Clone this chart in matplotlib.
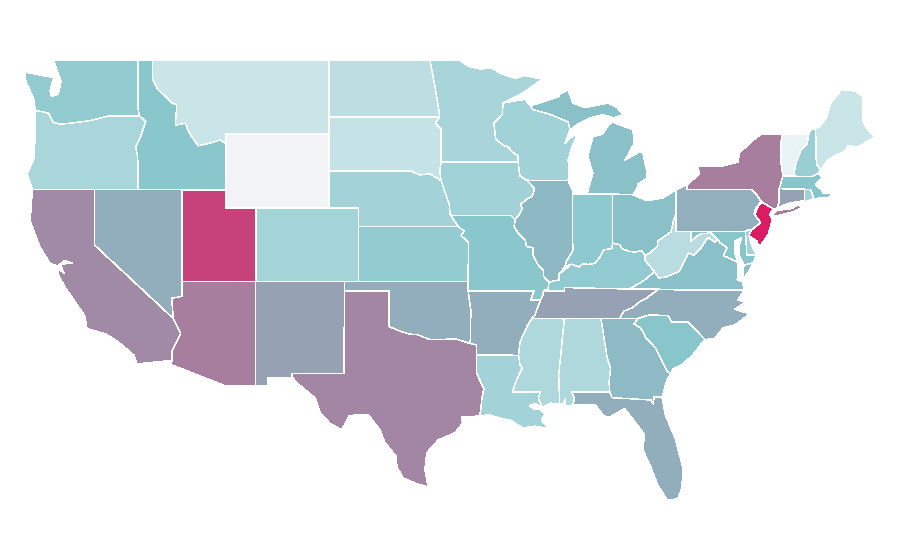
import numpy as np
import matplotlib
matplotlib.use("Agg")
import matplotlib.pyplot as plt
from matplotlib.collections import PolyCollection
from matplotlib.colors import LinearSegmentedColormap, Normalize

# value per state (NaN = no data)
state_values = {
    "WA": 45, "OR": 34, "CA": 71.6, "NV": 62, "ID": 49, "MT": 19, "WY": np.nan, "UT": 89, "AZ": 75, "CO": 36,
    "NM": 65.4, "ND": 25, "SD": 21, "NE": 37, "KS": 45, "OK": 62, "TX": 73, "MN": 35, "IA": 38, "MO": 49,
    "AR": 62, "LA": 37, "WI": 38, "IL": 56, "MI": 52.4, "IN": 47, "OH": 52.4, "KY": 46, "TN": 65.4, "MS": 32,
    "AL": 32, "GA": 55.6, "FL": 62, "SC": 50, "NC": 62, "VA": 52.4, "WV": 27, "MD": 50, "DE": 38, "PA": 61,
    "NJ": 97, "NY": 75, "CT": 65.4, "RI": 38, "MA": 50, "VT": 4, "NH": 42, "ME": 18,
}

color_stops = [(0.0, "#f0f7f8"), (0.5, "#88c6cc"), (0.62, "#92adbc"), (0.75, "#a67f9f"), (1.0, "#e0105e")]
no_data_color = "#f2f3f5"

# shared geographic borders, lon/lat
miss_mn_wi = [(-92.75,44.75),(-92.3,44.45),(-91.9,44.3),(-91.6,44.03),(-91.25,43.85),(-91.22,43.5)]
miss_ia_wi = [(-91.17,43.1),(-91.1,42.75),(-90.64,42.51)]
miss_ia_il = [(-90.42,42.33),(-90.15,42.1),(-90.17,41.8),(-90.34,41.6),(-90.65,41.47),(-91.05,41.2),(-90.95,40.95),(-91.1,40.7),(-91.42,40.38)]
miss_mo_il = [(-91.5,40.0),(-91.2,39.6),(-90.75,39.25),(-90.65,38.9),(-90.2,38.85),(-90.2,38.4),(-89.9,37.95),(-89.5,37.6),(-89.5,37.3),(-89.13,36.98)]
miss_ms_ar = [(-90.3,35.0),(-90.6,34.6),(-90.9,34.1),(-91.1,33.7),(-91.2,33.0)]
miss_ms_la = [(-91.1,32.5),(-90.95,32.3),(-91.2,31.9),(-91.45,31.4),(-91.6,31.0)]
ohio_wv_oh = [(-80.52,40.64),(-80.65,40.4),(-80.85,39.7),(-81.4,39.4),(-81.75,39.2),(-81.75,38.95),(-82.2,38.6),(-82.6,38.42)]
ohio_ky_oh = [(-82.85,38.7),(-83.3,38.6),(-83.7,38.65),(-84.2,38.8),(-84.3,39.0),(-84.82,39.1)]
ohio_ky_in = [(-84.85,38.8),(-85.4,38.73),(-85.7,38.3),(-86.0,38.0),(-86.5,37.93),(-86.8,37.98),(-87.1,37.8),(-87.6,37.95),(-88.05,37.8)]
ohio_ky_il = [(-88.45,37.4),(-88.45,37.1),(-89.13,36.98)]
wabash = [(-87.95,38.1),(-87.5,38.7),(-87.53,39.35)]
mo_sd_ne = [(-104.05,43.0),(-98.5,43.0),(-97.9,42.8),(-97.2,42.85),(-96.45,42.49)]
mo_ia_ne = [(-96.25,42.0),(-96.1,41.65),(-95.9,41.2),(-95.85,40.7),(-95.77,40.58)]
mo_mo_ks = [(-95.3,40.0),(-94.9,39.75),(-95.1,39.5),(-94.6,39.15)]
red_river = [(-100.0,34.56),(-99.2,34.3),(-98.6,34.15),(-98.1,34.13),(-97.2,33.85),(-96.6,33.85),(-95.5,33.9),(-94.48,33.64)]
sabine = [(-94.04,33.02),(-94.04,32.0),(-93.55,31.2),(-93.7,30.6),(-93.75,30.1),(-93.85,29.7)]
savannah = [(-83.1,35.0),(-83.35,34.7),(-82.9,34.48),(-82.55,33.95),(-81.9,33.4),(-81.4,32.6),(-81.1,32.1),(-80.85,32.03)]
nc_tn = [(-84.32,35.0),(-84.05,35.4),(-83.5,35.57),(-82.9,35.95),(-82.6,36.05),(-81.7,36.59)]
va_wv = [(-81.97,37.54),(-81.68,37.2),(-81.2,37.25),(-80.3,37.55),(-79.65,38.58),(-79.3,38.42),(-78.87,38.77),(-78.35,39.4),(-77.83,39.14),(-77.72,39.32)]
potomac = [(-76.3,38.05),(-76.95,38.3),(-77.3,38.4),(-77.05,38.85),(-77.5,39.1),(-77.72,39.32)]
md_wv = [(-77.72,39.32),(-78.2,39.68),(-78.4,39.62),(-78.8,39.6),(-79.1,39.47),(-79.48,39.2),(-79.48,39.72)]
id_mt = [(-111.05,44.48),(-111.46,44.7),(-112.0,44.55),(-112.95,44.38),(-113.45,44.95),(-113.84,45.6),(-114.5,45.5),(-114.4,46.6),(-114.7,46.7),(-115.7,47.45),(-116.05,48.0),(-116.05,49.0)]
or_id = [(-116.92,45.99),(-116.5,45.7),(-116.85,44.9),(-117.2,44.34),(-117.05,43.8),(-117.03,42.0)]
wa_or = [(-124.0,46.27),(-123.6,46.25),(-123.1,46.15),(-122.8,45.65),(-122.3,45.55),(-121.2,45.65),(-120.3,45.75),(-119.06,46.0),(-116.92,45.99)]
vt_nh = [(-72.45,42.73),(-72.45,43.1),(-72.3,43.6),(-72.05,44.1),(-71.6,44.5),(-71.5,45.0)]
r = lambda line: line[::-1]

state_shapes = {
    "WA": [[(-124.7,48.38),(-123.2,48.15),(-122.75,48.1),(-123.0,47.35),(-122.9,47.05),(-122.45,47.2),(-122.25,47.9),(-122.45,48.3),(-122.75,49.0),(-117.03,49.0),(-117.04,46.42)] + r(wa_or) + [(-124.1,46.9),(-124.7,48.0)]],
    "OR": [wa_or + or_id[1:] + [(-124.2,42.0),(-124.55,42.85),(-124.1,43.7),(-124.0,45.0)]],
    "CA": [[(-124.2,42.0),(-120.0,42.0),(-120.0,39.0),(-114.63,35.0),(-114.13,34.2),(-114.74,33.2),(-114.72,32.72),(-117.12,32.53),(-117.3,33.0),(-118.4,33.75),(-119.2,34.15),(-120.5,34.45),(-120.65,35.15),(-121.9,36.6),(-122.4,37.3),(-122.5,37.75),(-122.05,37.45),(-122.3,37.95),(-121.5,38.0),(-122.0,38.15),(-122.5,37.85),(-123.0,38.0),(-123.7,38.9),(-124.35,40.3)]],
    "NV": [[(-120.0,42.0),(-114.04,42.0),(-114.04,36.2),(-114.75,36.1),(-114.63,35.0),(-120.0,39.0)]],
    "ID": [[(-117.03,49.0)] + r(id_mt) + [(-111.05,42.0)] + r(or_id) + [(-117.04,46.42)]],
    "MT": [[(-116.05,49.0),(-104.05,49.0),(-104.05,45.0),(-111.05,45.0)] + id_mt[:-1]],
    "UT": [[(-114.04,42.0),(-111.05,42.0),(-111.05,41.0),(-109.05,41.0),(-109.05,37.0),(-114.04,37.0)]],
    "CO": [[(-109.05,41.0),(-102.05,41.0),(-102.05,37.0),(-109.05,37.0)]],
    "AZ": [[(-114.75,36.1),(-114.04,36.2),(-114.04,37.0),(-109.05,37.0),(-109.05,31.33),(-111.07,31.33),(-114.8,32.5),(-114.72,32.72),(-114.74,33.2),(-114.13,34.2),(-114.63,35.0)]],
    "NM": [[(-109.05,37.0),(-103.0,37.0),(-103.06,32.0),(-106.62,32.0),(-106.53,31.78),(-108.2,31.78),(-108.2,31.33),(-109.05,31.33)]],
    "ND": [[(-104.05,49.0),(-97.2,49.0),(-96.85,47.5),(-96.6,46.3),(-96.55,45.94),(-104.05,45.94)]],
    "SD": [[(-104.05,45.94),(-96.55,45.94),(-96.85,45.6),(-96.45,45.3),(-96.45,43.5),(-96.55,43.0)] + r(mo_sd_ne)],
    "NE": [mo_sd_ne + mo_ia_ne + [(-95.3,40.0),(-102.05,40.0),(-102.05,41.0),(-104.05,41.0)]],
    "KS": [[(-102.05,40.0)] + mo_mo_ks + [(-94.62,37.0),(-102.05,37.0)]],
    "OK": [[(-103.0,37.0),(-94.62,37.0),(-94.43,35.4)] + r(red_river) + [(-100.0,36.5),(-103.0,36.5)]],
    "TX": [[(-103.0,36.5),(-100.0,36.5)] + red_river + [(-94.04,33.55)] + sabine + [(-95.05,29.65),(-95.0,29.3),(-95.5,28.8),(-96.65,28.4),(-97.43,27.7),(-97.55,26.8),(-97.34,25.85),(-98.2,26.05),(-99.04,26.34),(-99.45,26.93),(-99.5,27.5),(-100.3,28.3),(-100.6,28.95),(-101.4,29.77),(-102.3,29.76),(-102.7,29.7),(-103.2,28.95),(-104.0,29.3),(-104.67,29.87),(-105.0,30.68),(-106.2,31.47),(-106.53,31.78),(-106.62,32.0),(-103.06,32.0)]],
    "MN": [[(-97.2,49.0),(-95.15,49.0),(-94.6,48.7),(-93.8,48.55),(-93.0,48.6),(-92.4,48.3),(-91.4,48.05),(-90.8,48.2),(-89.6,48.0),(-90.8,47.3),(-92.25,46.7),(-92.3,46.1),(-92.87,45.6)] + miss_mn_wi + [(-96.45,43.5),(-96.45,45.3),(-96.85,45.6),(-96.55,45.94),(-96.6,46.3),(-96.85,47.5)]],
    "IA": [[(-96.45,43.5),(-91.22,43.5)] + miss_ia_wi + miss_ia_il + [(-91.73,40.6)] + r(mo_ia_ne) + [(-96.45,42.49),(-96.55,43.0)]],
    "MO": [[(-95.77,40.58),(-91.73,40.6),(-91.42,40.38)] + miss_mo_il + [(-89.2,36.6),(-89.5,36.5),(-89.55,36.25),(-89.7,36.0),(-90.37,36.0),(-90.15,36.5),(-94.62,36.5),(-94.62,37.0)] + r(mo_mo_ks)],
    "AR": [[(-94.62,36.5),(-90.15,36.5),(-90.37,36.0),(-89.7,36.0),(-89.9,35.6),(-90.1,35.15)] + miss_ms_ar + [(-94.04,33.02),(-94.04,33.55),(-94.48,33.64),(-94.43,35.4)]],
    "LA": [[(-94.04,33.02),(-91.2,33.0)] + miss_ms_la + [(-89.73,31.0),(-89.85,30.67),(-89.6,30.18),(-90.1,30.38),(-90.45,30.25),(-90.1,30.05),(-89.7,30.05),(-89.4,29.8),(-89.65,29.5),(-89.15,29.0),(-90.1,29.15),(-90.9,29.05),(-91.8,29.5),(-92.3,29.55),(-93.2,29.77)] + r(sabine)],
    "MS": [r(miss_ms_la)[1:] + [(-91.2,33.0)] + r(miss_ms_ar)[1:] + [(-90.3,35.0),(-88.2,35.0),(-88.1,34.9),(-88.47,31.9),(-88.4,30.35),(-89.0,30.4),(-89.6,30.18),(-89.85,30.67),(-89.73,31.0),(-91.6,31.0)]],
    "AL": [[(-88.2,35.0),(-85.6,35.0),(-85.18,32.87),(-84.95,32.3),(-85.05,31.55),(-85.0,31.0),(-87.6,31.0),(-87.4,30.65),(-87.5,30.3),(-88.0,30.25),(-88.0,30.65),(-88.15,30.35),(-88.4,30.35),(-88.47,31.9),(-88.1,34.9)]],
    "GA": [[(-85.6,35.0)] + savannah + [(-81.15,31.6),(-81.45,30.72),(-82.0,30.75),(-82.05,30.36),(-82.2,30.57),(-84.86,30.7),(-85.0,31.0),(-85.05,31.55),(-84.95,32.3),(-85.18,32.87)]],
    "FL": [[(-87.6,31.0),(-85.0,31.0),(-84.86,30.7),(-82.2,30.57),(-82.05,30.36),(-82.0,30.75),(-81.45,30.72),(-81.25,29.8),(-80.55,28.45),(-80.05,26.9),(-80.1,25.8),(-80.4,25.2),(-81.1,25.13),(-81.75,25.95),(-82.2,26.9),(-82.75,27.85),(-82.65,28.7),(-83.4,29.5),(-84.0,30.1),(-85.0,29.65),(-85.4,29.7),(-86.0,30.3),(-87.5,30.3),(-87.4,30.65)]],
    "SC": [[(-83.1,35.0),(-82.3,35.2),(-81.05,35.15),(-80.8,34.82),(-79.67,34.8),(-78.55,33.86),(-79.0,33.4),(-79.4,33.0),(-80.0,32.55),(-80.7,32.25)] + r(savannah)[:-1]],
    "NC": [nc_tn + [(-80.3,36.55),(-75.87,36.55),(-76.3,36.0),(-75.75,35.9),(-76.5,35.5),(-75.5,35.25),(-76.5,34.65),(-77.3,34.5),(-77.9,33.9),(-78.55,33.86),(-79.67,34.8),(-80.8,34.82),(-81.05,35.15),(-82.3,35.2),(-83.1,35.0)]],
    "TN": [[(-90.3,35.0),(-88.2,35.0),(-85.6,35.0)] + nc_tn + [(-83.68,36.6),(-86.5,36.65),(-88.07,36.68),(-88.07,36.5),(-89.5,36.5),(-89.55,36.25),(-89.7,36.0),(-89.9,35.6),(-90.1,35.15)]],
    "KY": [r(ohio_ky_il) + r(ohio_ky_in)[1:] + [(-84.82,39.1)] + r(ohio_ky_oh)[1:] + [(-82.6,38.42),(-82.6,38.15),(-81.97,37.54),(-82.7,37.05),(-83.68,36.6),(-86.5,36.65),(-88.07,36.68),(-88.07,36.5),(-89.42,36.5),(-89.2,36.6)]],
    "VA": [[(-83.68,36.6),(-81.7,36.59),(-80.3,36.55),(-75.87,36.55),(-76.0,37.0),(-76.35,37.1),(-76.3,37.6)] + potomac[:-1] + r(va_wv) + [(-82.7,37.05)], [(-75.95,37.15),(-75.9,37.9),(-75.65,37.95),(-75.25,38.03),(-75.6,37.5)]],
    "WV": [ohio_wv_oh + [(-82.6,38.15)] + va_wv[:-1] + md_wv + [(-80.52,39.72)]],
    "MD": [[(-79.48,39.72),(-75.79,39.72),(-75.7,38.46),(-75.05,38.45),(-75.25,38.03),(-75.65,37.95),(-75.9,37.9),(-76.2,38.4),(-76.2,39.0),(-76.05,39.4),(-76.5,39.2),(-76.5,38.5)] + potomac + md_wv[1:-1]],
    "DE": [[(-75.79,39.72),(-75.6,39.83),(-75.4,39.8),(-75.55,39.5),(-75.4,39.05),(-75.05,38.45),(-75.7,38.46)]],
    "PA": [[(-80.52,41.98),(-79.76,42.27),(-79.76,42.0),(-75.35,42.0),(-75.05,41.75),(-74.7,41.36),(-75.1,41.0),(-75.2,40.7),(-74.75,40.2),(-75.4,39.8),(-75.6,39.83),(-75.79,39.72),(-80.52,39.72)]],
    "NJ": [[(-74.7,41.33),(-73.9,40.95),(-74.15,40.65),(-74.0,40.45),(-74.05,40.1),(-74.25,39.55),(-74.75,39.0),(-74.9,38.95),(-75.0,39.2),(-75.55,39.5),(-75.4,39.8),(-74.75,40.2),(-75.15,40.63),(-74.95,41.07)]],
    "NY": [[(-79.76,42.0),(-79.76,42.27),(-78.9,42.85),(-79.05,43.27),(-77.5,43.25),(-76.3,43.5),(-76.2,44.0),(-75.0,44.87),(-74.7,45.0),(-73.35,45.0),(-73.4,43.6),(-73.25,42.75),(-73.5,42.05),(-73.5,41.3),(-73.65,41.0),(-73.9,40.95),(-74.7,41.33),(-75.05,41.75),(-75.35,42.0)], [(-74.0,40.6),(-73.7,40.87),(-72.6,40.97),(-72.3,41.15),(-71.87,41.07),(-72.5,40.8),(-73.5,40.6)]],
    "CT": [[(-73.5,42.05),(-71.8,42.02),(-71.8,41.4),(-72.9,41.25),(-73.65,41.0),(-73.5,41.3)]],
    "RI": [[(-71.8,42.02),(-71.38,42.02),(-71.15,41.5),(-71.85,41.32),(-71.8,41.4)]],
    "MA": [[(-73.5,42.05),(-73.25,42.75),(-72.45,42.73),(-71.3,42.7),(-70.85,42.87),(-70.6,42.65),(-71.05,42.3),(-70.6,41.95),(-70.55,41.8),(-70.0,41.78),(-70.0,41.6),(-70.6,41.55),(-71.15,41.5),(-71.38,42.02),(-71.8,42.02)]],
    "VT": [[(-73.25,42.75)] + vt_nh + [(-73.35,45.0),(-73.4,43.6)]],
    "NH": [[(-72.45,42.73),(-71.3,42.7),(-70.85,42.87),(-70.7,43.07),(-70.98,43.4),(-71.03,45.3),(-71.4,45.24)] + r(vt_nh)[:-1]],
    "ME": [[(-71.03,45.3),(-70.98,43.4),(-70.7,43.07),(-70.2,43.6),(-69.7,43.85),(-69.0,44.1),(-68.8,44.4),(-68.2,44.3),(-67.0,44.85),(-67.45,45.2),(-67.8,45.7),(-67.8,47.04),(-68.3,47.35),(-69.15,47.42),(-69.25,47.45),(-70.0,46.7),(-70.3,45.9),(-70.8,45.4)]],
    "OH": [[(-84.82,39.1)] + r(ohio_ky_oh)[1:] + [(-82.85,38.7)] + r(ohio_wv_oh) + [(-80.52,41.98),(-81.4,41.55),(-81.7,41.5),(-82.5,41.4),(-83.43,41.72),(-84.8,41.76)]],
    "IN": [[(-87.53,41.72),(-87.2,41.75),(-86.82,41.76),(-84.8,41.76),(-84.82,39.1)] + ohio_ky_in + wabash],
    "IL": [[(-90.64,42.51),(-87.83,42.49),(-87.55,42.0),(-87.53,41.72)] + r(wabash) + [(-88.05,37.8)] + ohio_ky_il + r(miss_mo_il)[1:] + [(-91.42,40.38)] + r(miss_ia_il)[1:]],
    "WI": [[(-92.25,46.7),(-92.3,46.1),(-92.87,45.6)] + miss_mn_wi + miss_ia_wi + [(-87.83,42.49),(-87.75,43.0),(-87.83,43.6),(-87.57,44.33),(-87.15,45.09),(-87.6,44.85),(-88.04,44.54),(-87.7,45.25),(-87.84,45.68),(-89.1,46.1),(-90.2,46.34),(-90.4,46.55),(-90.75,46.9),(-91.25,46.85)]],
    "MI": [[(-86.55,41.77),(-84.8,41.76),(-83.43,41.72),(-83.15,42.05),(-83.1,42.3),(-82.5,42.6),(-82.47,42.9),(-82.75,44.0),(-83.0,44.05),(-83.97,43.6),(-83.35,44.5),(-83.43,45.25),(-84.85,45.68),(-85.1,45.5),(-85.5,45.0),(-86.15,44.87),(-86.5,43.8),(-86.15,42.9)],
           [(-90.4,46.55),(-90.2,46.34),(-89.1,46.1),(-87.84,45.68),(-87.7,45.25),(-87.2,45.55),(-86.3,45.9),(-85.46,46.07),(-84.75,45.9),(-84.1,46.07),(-84.5,46.45),(-85.1,46.7),(-86.7,46.45),(-87.5,46.7),(-87.84,47.42),(-88.38,47.2),(-88.5,47.04),(-89.2,46.85)],
           [(-89.2,47.85),(-88.5,48.15),(-88.6,48.0)]],
    "WY": [[(-111.05,45.0),(-104.05,45.0),(-104.05,41.0),(-111.05,41.0)]],
}

fig = plt.figure(figsize=(9, 5.6), dpi=100, facecolor="white")
ax = fig.add_axes([0, 0, 1, 1])
ax.set_xlim(-126.4, -65.3)
ax.set_ylim(21.88, 52.3)
ax.axis("off")

verts, vals = [], []
for code, parts in state_shapes.items():
    for part in parts:
        verts.append(part)
        vals.append(state_values[code])

cmap = LinearSegmentedColormap.from_list("rate", color_stops)
cmap.set_bad(no_data_color)
coll = PolyCollection(verts, array=np.ma.masked_invalid(vals), cmap=cmap, norm=Normalize(0, 100),
                      edgecolors="white", linewidths=0.35, antialiaseds=False)
ax.add_collection(coll)
fig.savefig("out.png", dpi=100, facecolor="white")
